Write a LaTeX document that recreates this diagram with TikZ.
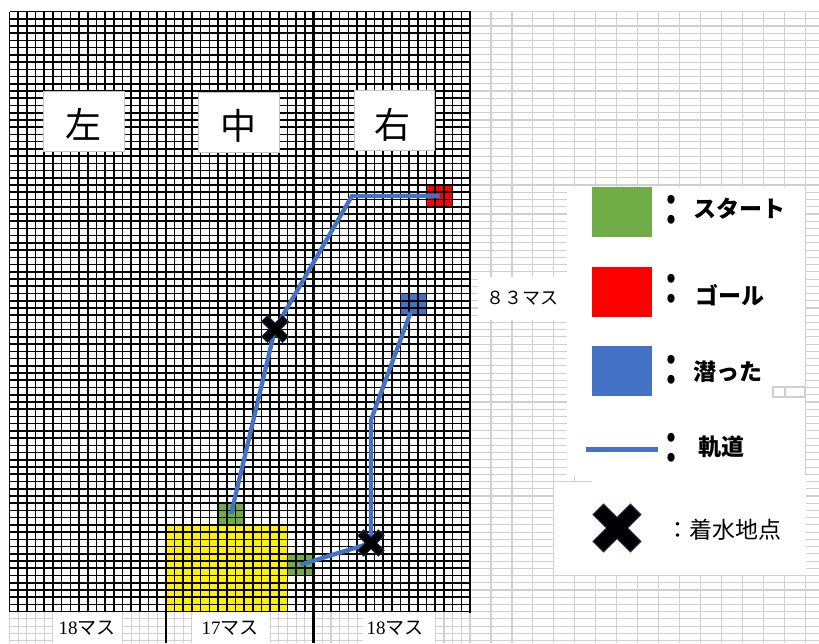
\documentclass[tikz,border=0pt]{standalone}
\usepackage{fontspec}
\usepackage{graphicx}
\setmainfont{Liberation Serif}
\newfontfamily\jp{Noto Sans CJK JP}
\definecolor{sgreen}{HTML}{70AD47}
\definecolor{sblue}{HTML}{4472C4}
\definecolor{gline}{HTML}{D0D0D0}
\definecolor{boxline}{HTML}{C4C4C4}
\definecolor{xedge}{HTML}{1F3864}
\begin{document}
\begin{tikzpicture}[x=1pt,y=-1pt,
  ggrid/.style={draw=gline, line width=1.1},
  bgrid/.style={draw=black, line width=1.6},
  thick line/.style={draw=black, line width=2.4},
  traj/.style={draw=sblue, line width=4.3},
  sidebox/.style={draw=boxline, fill=white, line width=0.9},
  sidetxt/.style={inner sep=0, font=\jp\fontsize{36}{40}\selectfont},
  cellsq/.style={minimum width=26.07pt, minimum height=21.69pt, inner sep=0, outer sep=0},
  legsq/.style={minimum width=60pt, minimum height=50pt, inner sep=0, outer sep=0},
  legtxt/.style={anchor=west, inner sep=0, font=\jp\bfseries\fontsize{23}{26}\selectfont},
  legcolon/.style={inner sep=0, font=\jp\bfseries\fontsize{34}{36}\selectfont},
  btxt/.style={inner sep=0, font=\fontsize{19}{22}\selectfont},
  xshape/.pic={\fill[black, draw=xedge, line width=0.8, rotate=45]
    (7.5,7.5) -- (26.5,7.5) -- (26.5,-7.5) -- (7.5,-7.5) -- (7.5,-26.5) -- (-7.5,-26.5)
    -- (-7.5,-7.5) -- (-26.5,-7.5) -- (-26.5,7.5) -- (-7.5,7.5) -- (-7.5,26.5) -- (7.5,26.5) -- cycle;}
]
\useasboundingbox (0,0) rectangle (819,643);
\fill[white] (0,0) rectangle (819,643);

% light spreadsheet grid (right side)
\foreach \k in {0,...,87} \draw[ggrid] (470,{11.5+\k*7.231}) -- (819,{11.5+\k*7.231});
\foreach \k in {1,...,16} \draw[ggrid] ({470+\k*20.98},11.5) -- ({470+\k*20.98},643);
% light grid under the black grid
\foreach \k in {1,...,4} \draw[ggrid] (9.5,{611.7+\k*7.231}) -- (470,{611.7+\k*7.231});
\foreach \k in {0,...,53} \draw[ggrid] ({9.5+\k*8.689},611.7) -- ({9.5+\k*8.689},643);

% white boxes over the light grid
\fill[white] (478,277) rectangle (567,320);
\fill[white] (567,187) rectangle (805.1,476);
\draw[ggrid] (773,387) rectangle (805,397);
\draw[ggrid] (785,387) -- (785,397);
\fill[white] (554,482) rectangle (806,575);
\fill[white] (592,475) rectangle (806,483);
\fill[white] (53,612.6) rectangle (122,643);
\fill[white] (192,612.6) rectangle (270,643);
\fill[white] (363,612.6) rectangle (435,643);

% black grid with coloured cells
\begin{scope}[shift={(9.5,11.5)}, x=8.689pt, y=-7.231pt]
  \fill[yellow] (18,71) rectangle (32,83);
  \node[cellsq, fill=sgreen] (g1) at (25.5,69.5) {};
  \node[cellsq, fill=sgreen] (g2) at (33.5,76.5) {};
  \node[cellsq, fill=red] (goal) at (49.5,25.5) {};
  \node[cellsq, fill=sblue] (dive) at (46.5,40.5) {};
  \foreach \i in {0,...,53} \draw[bgrid] (\i,0) -- (\i,83);
  \foreach \j in {0,...,83} \draw[bgrid] (0,\j) -- (53,\j);
\end{scope}
\draw[thick line] (165.9,11.5) -- (165.9,643);
\draw[thick line] (313.6,11.5) -- (313.6,643);
\draw[draw=black, line width=2] (470,10.8) -- (470,612.5);

% side labels
\draw[sidebox] (43,91) rectangle (124,151);
\draw[sidebox] (198,92) rectangle (279,152);
\draw[sidebox] (354,90) rectangle (434,150);
\node[sidetxt] (tl) at (83,124) {左};
\node[sidetxt] (tc) at (238.5,126) {中};
\node[sidetxt] (tr) at (392,125) {右};

% trajectories
\coordinate (x1) at (275,329);
\coordinate (x2) at (371,543);
\coordinate (c1) at (352,195.9);
\coordinate (c2) at (371,420);
\draw[traj] (g1.center) -- (x1) -- (c1) -- (goal.center);
\draw[traj, shorten >=8pt] (g2.center) -- (x2) -- (c2) -- (dive.center);
\pic[scale=0.56] at (x1) {xshape};
\pic[scale=0.55] at (x2) {xshape};

% bottom and side counts
\node[btxt] (b1) at (87,628) {18{\jp マス}};
\node[btxt] (b2) at (230,628) {17{\jp マス}};
\node[btxt] (b3) at (395,628) {18{\jp マス}};
\node[inner sep=0, font=\jp\fontsize{18}{20}\selectfont] (n83) at (522,298) {８３マス};

% legend
\node[legsq, fill=sgreen] (lg) at (622,212) {};
\node[legsq, fill=red] (lr) at (622,291.5) {};
\node[legsq, fill=sblue] (lb) at (622,371) {};
\draw[sblue, line width=5] (586,449) -- (658,449);
\node[legcolon] (k1) at (671,210.5) {\scalebox{1}[1.25]{：}};
\node[legcolon] (k2) at (671,289.5) {\scalebox{1}[1.25]{：}};
\node[legcolon] (k3) at (671,370) {\scalebox{1}[1.25]{：}};
\node[legcolon] (k4) at (671,448) {\scalebox{1}[1.25]{：}};
\node[legtxt] (t1) at (693,209) {スタート};
\node[legtxt] (t2) at (695,295) {ゴール};
\node[legtxt] (t3) at (693,372) {潜った};
\node[legtxt] (t4) at (698,447) {軌道};
\pic at (617,528) {xshape};
\node[anchor=west, inner sep=0, font=\jp\fontsize{23}{26}\selectfont] (t5) at (666,530) {：着水地点};
\end{tikzpicture}
\end{document}
